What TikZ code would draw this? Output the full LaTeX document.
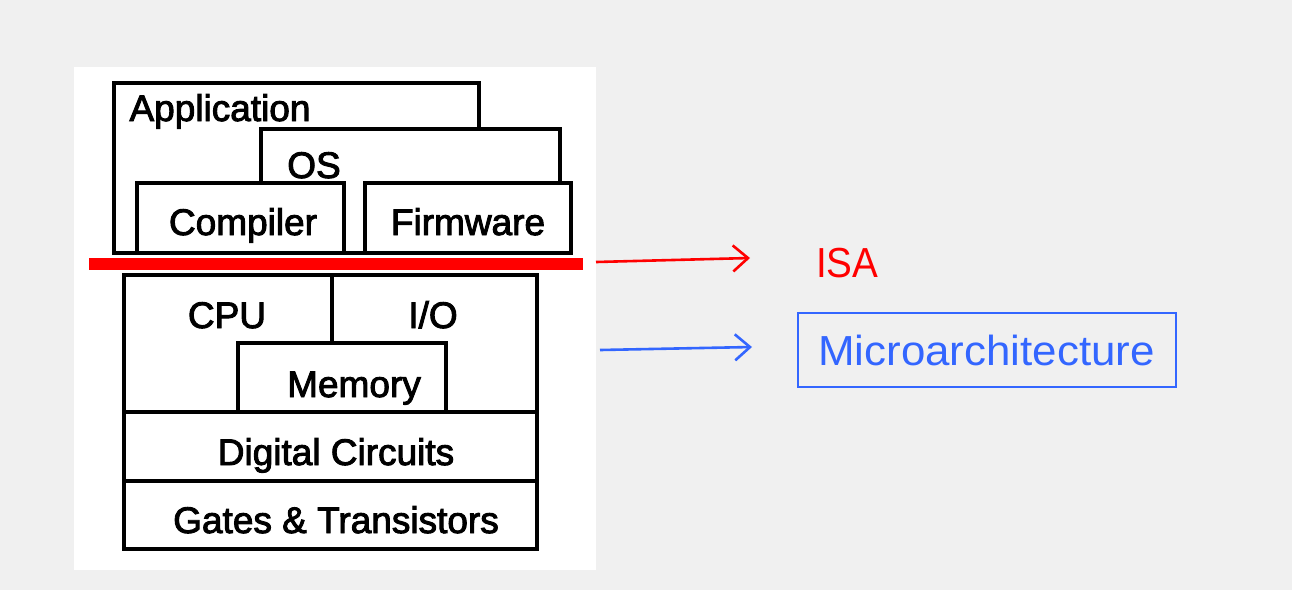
\documentclass[tikz,border=0pt]{standalone}
\usepackage{fontspec}
\setmainfont{Liberation Sans}
\newfontfamily\labfont[FakeBold=2.5]{Liberation Sans}
\newfontfamily\isafont[FakeStretch=0.92]{Liberation Sans}
\newfontfamily\mafont[FakeStretch=1.045]{Liberation Sans}
\usetikzlibrary{arrows.meta}
\definecolor{bgc}{RGB}{240,240,240}
\definecolor{isared}{RGB}{255,0,0}
\definecolor{mablue}{RGB}{51,102,255}
\begin{document}
\begin{tikzpicture}[x=1pt,y=-1pt,
  box/.style={draw=black,line width=4pt,fill=white},
  lbl/.style={font={\labfont\fontsize{37}{42}\selectfont},inner sep=0pt,anchor=base,text=black},
  side/.style={inner sep=0pt,anchor=base west},
  arr/.style={line width=2.6pt,-{Straight Barb[length=15pt,width=26pt,line width=2.6pt]}}]
\fill[bgc] (0,0) rectangle (1292,590);
\useasboundingbox (0,0) rectangle (1292,590);
\fill[white] (74,67) rectangle (596,570);
% software layers
\draw[box] (114,83) rectangle (479,253);
\draw[box] (261,129) rectangle (560,253);
\draw[box] (137,183) rectangle (344,253);
\draw[box] (365,183) rectangle (571,253);
\node[lbl] (app) at (220,121) {Application};
\node[lbl] (os) at (314,178) {OS};
\node[lbl] (comp) at (243,235) {Compiler};
\node[lbl] (firm) at (468,235) {Firmware};
% ISA bar
\node[fill=isared,minimum width=494pt,minimum height=12pt,inner sep=0pt] (isabar) at (336,264) {};
% hardware layers
\draw[box] (124,275) rectangle (537,549);
\draw[line width=4pt] (332,275) -- (332,343);
\draw[box] (238,343) rectangle (446,412);
\draw[line width=4pt] (124,412) -- (537,412);
\draw[line width=4pt] (124,481) -- (537,481);
\node[lbl] (cpu) at (227,328) {CPU};
\node[lbl] (io) at (433,328) {I/O};
\node[lbl] (mem) at (354,397) {Memory};
\node[lbl] (dig) at (336,465) {Digital Circuits};
\node[lbl] (gat) at (336,533) {Gates \& Transistors};
% right side
\node[side,text=isared,font={\isafont\fontsize{42}{48}\selectfont}] (isa) at (816,277) {ISA};
\node[draw=mablue,line width=1.8pt,minimum width=378pt,minimum height=74pt,inner sep=0pt] (mabox) at (987,350) {};
\node[side,text=mablue,font={\mafont\fontsize{42}{48}\selectfont}] (ma) at (818,365) {Microarchitecture};
\coordinate (r1) at (596,262);
\coordinate (r2) at (750,258);
\coordinate (b1) at (600,350);
\coordinate (b2) at (752,347);
\draw[arr,isared] (r1) -- (r2);
\draw[arr,mablue] (b1) -- (b2);
\end{tikzpicture}
\end{document}
